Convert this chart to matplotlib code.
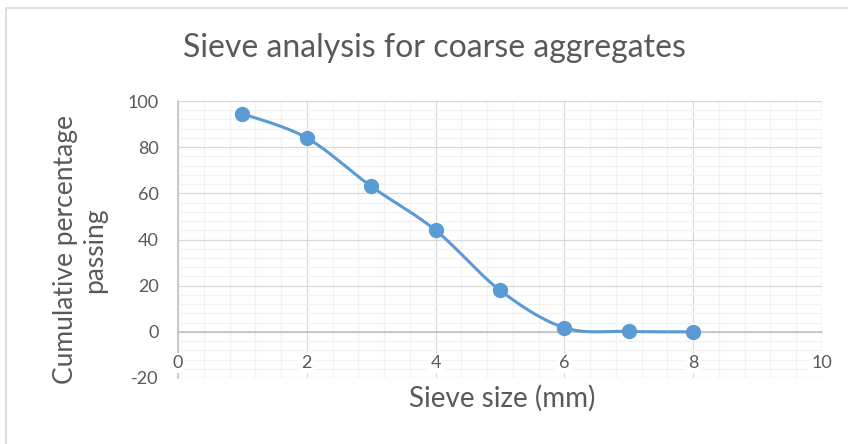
"""Sieve analysis chart for coarse aggregates (Excel-style smoothed line)."""

import matplotlib

matplotlib.use("Agg")
import matplotlib.pyplot as plt
import numpy as np
from matplotlib.patches import Rectangle
from matplotlib.ticker import MultipleLocator

plt.rcParams["axes.unicode_minus"] = False

sieve_size = [1, 2, 3, 4, 5, 6, 7, 8]
percent_passing = [94.5, 84.0, 63.0, 44.0, 18.0, 1.8, 0.2, 0.0]

x_ticks = [0, 2, 4, 6, 8, 10]
y_ticks = [-20, 0, 20, 40, 60, 80, 100]

title = "Sieve analysis for coarse aggregates"
x_label = "Sieve size (mm)"
y_label = "Cumulative percentage\npassing"

LINE = "#5B9BD5"
TEXT = "#595959"
FONT = ["Lato", "DejaVu Sans"]


def smooth_curve(x, y, steps=40):
    # Bezier segments with Catmull-Rom tangents, like Excel's "smoothed line"
    pts = np.column_stack([x, y]).astype(float)
    padded = np.vstack([pts[0], pts, pts[-1]])
    t = np.linspace(0, 1, steps)[:, None]
    out = []
    for i in range(len(pts) - 1):
        p0, p1, p2, p3 = padded[i], padded[i + 1], padded[i + 2], padded[i + 3]
        c1 = p1 + (p2 - p0) / 6
        c2 = p2 - (p3 - p1) / 6
        seg = ((1 - t) ** 3) * p1 + 3 * ((1 - t) ** 2) * t * c1 \
            + 3 * (1 - t) * t ** 2 * c2 + t ** 3 * p2
        out.append(seg if i == 0 else seg[1:])
    curve = np.vstack(out)
    return curve[:, 0], curve[:, 1]


W, H = 848, 444
fig = plt.figure(figsize=(W / 100, H / 100), dpi=100)
fig.patch.set_facecolor("white")

# chart area border
fig.patches.append(Rectangle((6 / W, -0.1), 1.2, 1.1 - 8 / H, transform=fig.transFigure,
                             fill=False, edgecolor="#D9D9D9", linewidth=1.2))

ax = fig.add_axes([178 / W, 1 - 378 / H, (822 - 178) / W, (378 - 101) / H])
ax.set_xlim(0, 10)
ax.set_ylim(-20, 100)

ax.xaxis.set_minor_locator(MultipleLocator(0.4))
ax.yaxis.set_minor_locator(MultipleLocator(4))
ax.set_xticks(x_ticks)
ax.set_yticks(y_ticks)
ax.set_xticklabels([])

ax.grid(which="minor", color="#F2F2F2", linewidth=0.9)
ax.grid(which="major", color="#D9D9D9", linewidth=0.9)
ax.set_axisbelow(True)

for side in ("top", "right"):
    ax.spines[side].set_visible(False)
ax.spines["bottom"].set_position(("data", 0))
ax.spines["bottom"].set_color("#BFBFBF")
ax.spines["left"].set_color("#BFBFBF")
ax.spines["bottom"].set_linewidth(1.1)
ax.spines["left"].set_linewidth(1.1)

ax.tick_params(axis="both", which="both", length=0, colors=TEXT, labelsize=13)
ax.tick_params(axis="y", pad=14)
for lab in ax.get_yticklabels():
    lab.set_family(FONT)

# x labels sit inside the plot area (axis crosses at 0), masking the grid behind them
for xv in x_ticks:
    ax.text(xv, -13.5, str(xv), ha="center", va="center", fontsize=13, color=TEXT,
            family=FONT, zorder=5,
            bbox=dict(facecolor="white", edgecolor="none", pad=1.5))

sx, sy = smooth_curve(sieve_size, percent_passing)
ax.plot(sx, sy, color=LINE, linewidth=2.2, solid_capstyle="round", zorder=3)
ax.plot(sieve_size, percent_passing, linestyle="none", marker="o", markersize=10,
        color=LINE, zorder=4)

fig.text(434 / W, 1 - 57 / H, title, ha="center", va="baseline", fontsize=23,
         color=TEXT, family=FONT)
fig.text(502 / W, 1 - 407 / H, x_label, ha="center", va="baseline", fontsize=20,
         color=TEXT, family=FONT)
fig.text(80 / W, 1 - 250 / H, y_label, ha="center", va="center", rotation=90,
         multialignment="center", fontsize=19, color=TEXT, family=FONT,
         linespacing=1.25)

fig.savefig("out.png", dpi=100, facecolor="white")
